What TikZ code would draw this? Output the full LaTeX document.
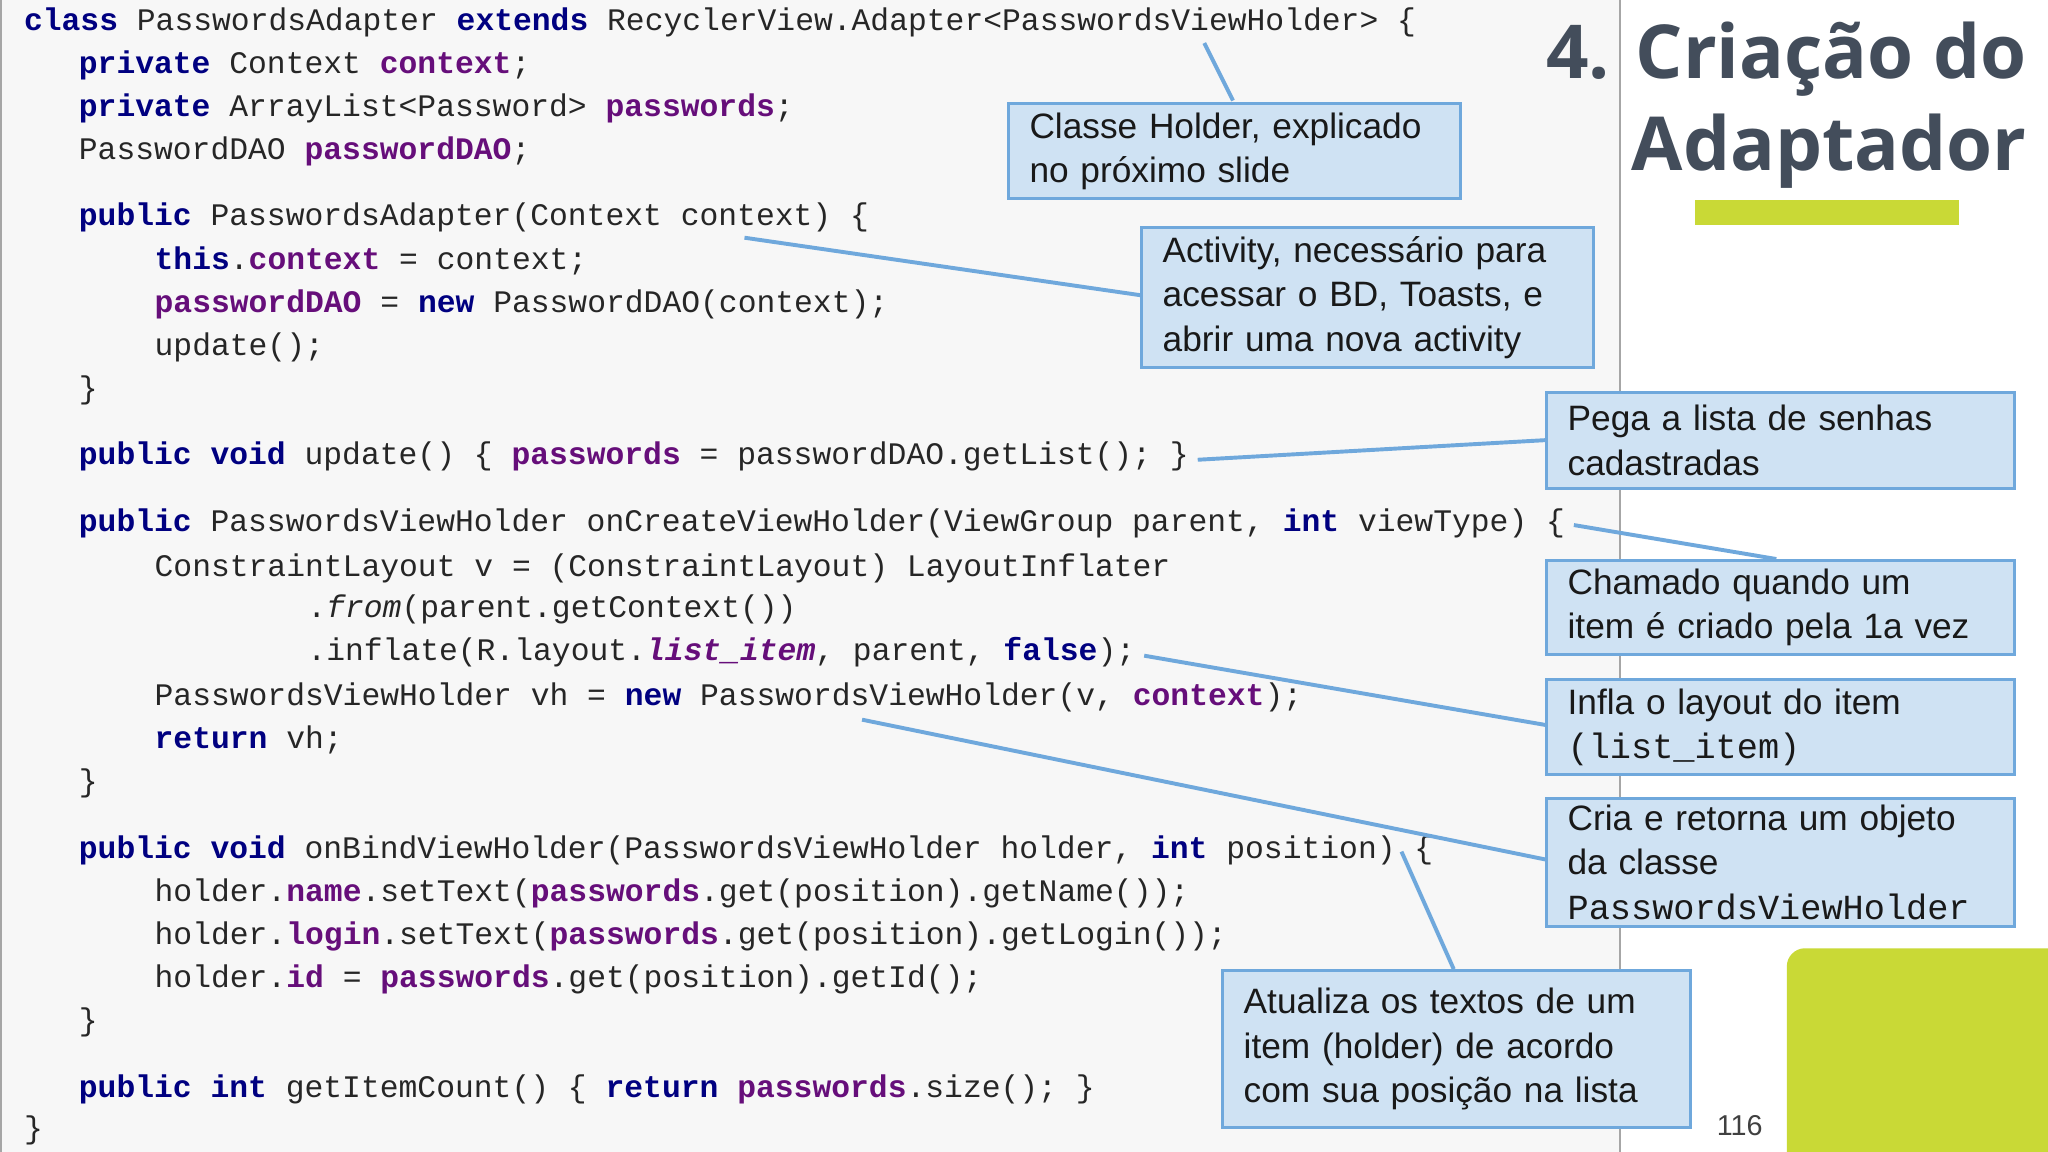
\documentclass[tikz,border=0pt]{standalone}
\usepackage{fontspec}
\setmainfont{Liberation Sans}
\setmonofont{Liberation Mono}
\newfontfamily\titlefont{Open Sans}
\definecolor{kwc}{HTML}{000080}
\definecolor{fdc}{HTML}{660E7A}
\definecolor{boxfill}{HTML}{CFE2F3}
\definecolor{boxline}{HTML}{6FA8DC}
\definecolor{titlec}{HTML}{434D5B}
\definecolor{lime}{HTML}{C9D936}
\newcommand\ckw[1]{\textbf{\color{kwc}#1}}
\newcommand\cfd[1]{\textbf{\color{fdc}#1}}
\begin{document}
\begin{tikzpicture}[x=0.5pt,y=-0.5pt,
  code/.style={anchor=base west,inner sep=0pt,font=\fontsize{12}{14}\ttfamily,text=black!85},
  callout/.style={draw=boxline,line width=1.2pt,fill=boxfill,inner xsep=8pt,inner ysep=0pt,anchor=north west,align=left,font=\fontsize{13.5}{17}\selectfont,text=black!90},
  conn/.style={draw=boxline,line width=1.5pt}]
\useasboundingbox (0,0) rectangle (1568,882);
\fill[white] (0,0) rectangle (1568,882);
\fill[black!3] (0,0) rectangle (1240,882);
\draw[black!35,line width=0.8pt] (1240,0) -- (1240,882);
\draw[black!35,line width=0.8pt] (0.5,0) -- (0.5,882);
% code
\node[code] (l1) at (18,23) {\ckw{class} PasswordsAdapter \ckw{extends} RecyclerView.Adapter<PasswordsViewHolder> \{};
\node[code] (l2) at (60,56) {\ckw{private} Context \cfd{context};};
\node[code] (l3) at (60,89) {\ckw{private} ArrayList<Password> \cfd{passwords};};
\node[code] (l4) at (60,122) {PasswordDAO \cfd{passwordDAO};};
\node[code] (l5) at (60,173) {\ckw{public} PasswordsAdapter(Context context) \{};
\node[code] (l6) at (118,206) {\ckw{this}.\cfd{context} = context;};
\node[code] (l7) at (118,239) {\cfd{passwordDAO} = \ckw{new} PasswordDAO(context);};
\node[code] (l8) at (118,272) {update();};
\node[code] (l9) at (60,305) {\}};
\node[code] (l10) at (60,356) {\ckw{public} \ckw{void} update() \{ \cfd{passwords} = passwordDAO.getList(); \}};
\node[code] (l11) at (60,407) {\ckw{public} PasswordsViewHolder onCreateViewHolder(ViewGroup parent, \ckw{int} viewType) \{};
\node[code] (l12) at (118,441) {ConstraintLayout v = (ConstraintLayout) LayoutInflater};
\node[code] (l13) at (235,473) {.\textit{from}(parent.getContext())};
\node[code] (l14) at (235,506) {.inflate(R.layout.\textbf{\textit{\color{fdc}list\_item}}, parent, \ckw{false});};
\node[code] (l15) at (118,540) {PasswordsViewHolder vh = \ckw{new} PasswordsViewHolder(v, \cfd{context});};
\node[code] (l16) at (118,573) {\ckw{return} vh;};
\node[code] (l17) at (60,606) {\}};
\node[code] (l18) at (60,657) {\ckw{public} \ckw{void} onBindViewHolder(PasswordsViewHolder holder, \ckw{int} position) \{};
\node[code] (l19) at (118,690) {holder.\cfd{name}.setText(\cfd{passwords}.get(position).getName());};
\node[code] (l20) at (118,723) {holder.\cfd{login}.setText(\cfd{passwords}.get(position).getLogin());};
\node[code] (l21) at (118,756) {holder.\cfd{id} = \cfd{passwords}.get(position).getId();};
\node[code] (l22) at (60,789) {\}};
\node[code] (l23) at (60,840) {\ckw{public} \ckw{int} getItemCount() \{ \ckw{return} \cfd{passwords}.size(); \}};
\node[code] (l24) at (18,872) {\}};
% title
\node[anchor=east,inner sep=0pt,font=\titlefont\bfseries\fontsize{28.5}{34}\selectfont,text=titlec] (t1) at (1552,45) {4. Criação do};
\node[anchor=east,inner sep=0pt,font=\titlefont\bfseries\fontsize{28.5}{34}\selectfont,text=titlec] (t2) at (1552,116) {Adaptador};
\fill[lime] (1298,153) rectangle (1500,172);
\fill[lime,rounded corners=7pt] (1368,726) rectangle (1600,920);
\node[font=\fontsize{11}{13}\selectfont,text=black!75] (pg) at (1332,862) {116};
% callouts
\node[callout,minimum height=36.5pt,text width=157pt] (b1) at (771,78) {Classe Holder, explicado\\no próximo slide};
\node[callout,minimum height=53.5pt,text width=157pt] (b2) at (873,173) {Activity, necessário para\\acessar o BD, Toasts, e\\abrir uma nova activity};
\node[callout,minimum height=37pt,text width=163pt] (b3) at (1183,299) {Pega a lista de senhas\\cadastradas};
\node[callout,minimum height=36pt,text width=163pt] (b4) at (1183,428) {Chamado quando um\\item é criado pela 1a vez};
\node[callout,minimum height=36.5pt,text width=163pt] (b5) at (1183,519) {Infla o layout do item\\{\ttfamily (list\_item)}};
\node[callout,minimum height=49pt,text width=163pt] (b6) at (1183,610) {Cria e retorna um objeto\\da classe\\{\ttfamily PasswordsViewHolder}};
\node[callout,minimum height=60pt,text width=163pt] (b7) at (935,742) {Atualiza os textos de um\\item (holder) de acordo\\com sua posição na lista};
% connectors
\coordinate (a1) at (944,77); \coordinate (e1) at (922,33);
\coordinate (a2) at (873,226); \coordinate (e2) at (570,182);
\coordinate (a3) at (1183,337); \coordinate (e3) at (917,352);
\coordinate (a4) at (1360,428); \coordinate (e4) at (1205,402);
\coordinate (a5) at (1183,555); \coordinate (e5) at (876,502);
\coordinate (a6) at (1183,658); \coordinate (e6) at (660,551);
\coordinate (a7) at (1113,742); \coordinate (e7) at (1073,652);
\foreach \i in {1,...,7}{\draw[conn] (a\i) -- (e\i);}
\end{tikzpicture}
\end{document}
